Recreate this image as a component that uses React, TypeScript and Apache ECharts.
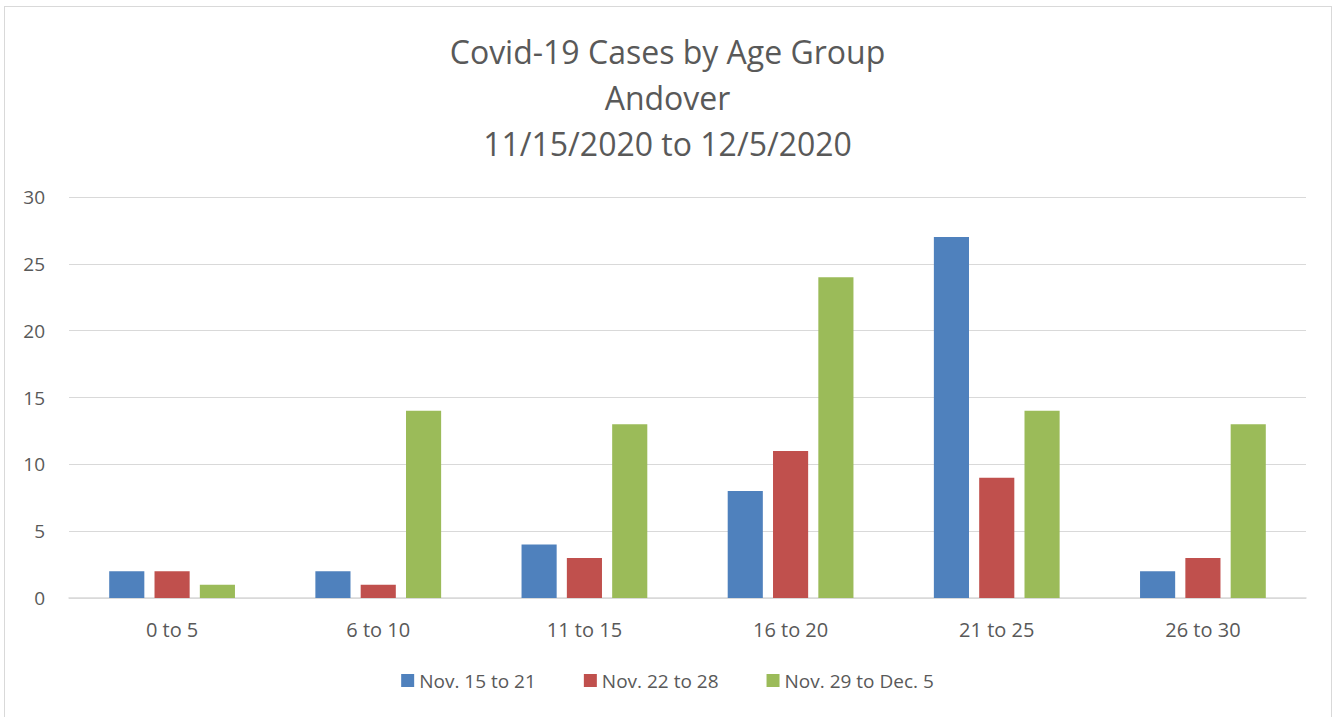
import React, { useEffect, useRef } from "react";
import * as echarts from "echarts";

const categories = ["0 to 5", "6 to 10", "11 to 15", "16 to 20", "21 to 25", "26 to 30"];
const seriesNames = ["Nov. 15 to 21", "Nov. 22 to 28", "Nov. 29 to Dec. 5"];
const nov15to21 = [2, 2, 4, 8, 27, 2];
const nov22to28 = [2, 1, 3, 11, 9, 3];
const nov29toDec5 = [1, 14, 13, 24, 14, 13];
const colors = ["#4F81BD", "#C0504D", "#9BBB59"];
const titleLines = ["Covid-19 Cases by Age Group", "Andover", "11/15/2020 to 12/5/2020"];

export default function App() {
  const ref = useRef<HTMLDivElement>(null);
  useEffect(() => {
    document.body.style.margin = "0";
    const chart = echarts.init(ref.current!, null, { renderer: "svg" });
    const font = "'Open Sans', 'Noto Sans', sans-serif";
    const data = [nov15to21, nov22to28, nov29toDec5];
    chart.setOption({
      animation: false,
      backgroundColor: "#ffffff",
      title: {
        text: titleLines.join("\n"),
        left: "center",
        top: 23,
        textStyle: { fontFamily: font, fontSize: 32, fontWeight: "normal", color: "#595959", lineHeight: 46 },
      },
      legend: {
        bottom: 22,
        left: "center",
        itemWidth: 13,
        itemHeight: 13,
        itemGap: 48,
        icon: "rect",
        textStyle: { fontFamily: font, fontSize: 19, color: "#595959" },
        data: seriesNames,
      },
      grid: { left: 69, right: 29, top: 197, bottom: 119 },
      xAxis: {
        type: "category",
        data: categories,
        axisLine: { lineStyle: { color: "#D9D9D9", width: 1.5 } },
        axisTick: { show: false },
        axisLabel: { fontFamily: font, fontSize: 20, color: "#595959", margin: 21 },
      },
      yAxis: {
        type: "value",
        min: 0,
        max: 30,
        interval: 5,
        axisLine: { show: false },
        axisTick: { show: false },
        splitLine: { lineStyle: { color: "#D9D9D9", width: 1 } },
        axisLabel: { fontFamily: font, fontSize: 19, color: "#595959", margin: 24 },
      },
      series: seriesNames.map((name, i) => ({
        name,
        type: "bar",
        data: data[i],
        itemStyle: { color: colors[i] },
        barGap: "29%",
        barCategoryGap: "39%",
      })),
    });
    return () => chart.dispose();
  }, []);
  return (
    <div style={{ position: "relative", width: 1335, height: 717 }}>
      <div ref={ref} style={{ position: "absolute", left: 0, top: 0, width: 1335, height: 717 }} />
      <div
        style={{
          position: "absolute",
          left: 4,
          top: 6,
          width: 1328,
          height: 714,
          border: "1.5px solid #D9D9D9",
          boxSizing: "border-box",
          pointerEvents: "none",
        }}
      />
    </div>
  );
}
